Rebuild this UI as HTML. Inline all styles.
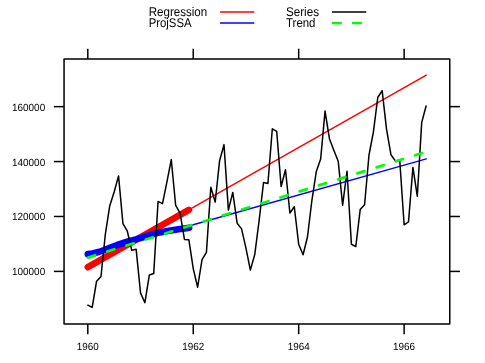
<!DOCTYPE html>
<html><head><meta charset="utf-8"><title>ProjSSA trend plot</title>
<style>
html,body{margin:0;padding:0;background:#fff;}
body{width:485px;height:363px;overflow:hidden;}
svg{display:block;}
text{font-family:"Liberation Sans",sans-serif;fill:#000;text-rendering:geometricPrecision;}
svg{will-change:transform;opacity:0.999;}
</style></head><body>
<svg width="485" height="363" viewBox="0 0 485 363">
<rect x="0" y="0" width="485" height="363" fill="#fff"/>
<g font-size="12.6">
<text x="148.7" y="15.6" textLength="58.5" lengthAdjust="spacingAndGlyphs">Regression</text>
<text x="148.7" y="27.2" textLength="42.9" lengthAdjust="spacingAndGlyphs">ProjSSA</text>
<text x="285.9" y="15.6" textLength="33.2" lengthAdjust="spacingAndGlyphs">Series</text>
<text x="286.0" y="27.2" textLength="29.5" lengthAdjust="spacingAndGlyphs">Trend</text>
</g>
<g fill="none" stroke-width="1.5" stroke-linecap="butt">
<line x1="220" y1="11.9" x2="254.3" y2="11.9" stroke="#f00"/>
<line x1="220" y1="23.0" x2="254.3" y2="23.0" stroke="#00f"/>
<line x1="332" y1="11.9" x2="366.3" y2="11.9" stroke="#000"/>
<line x1="333" y1="23.0" x2="366.3" y2="23.0" stroke="#0f0" stroke-width="2.7" stroke-dasharray="7.6,12.55" stroke-linecap="round"/>
</g>
<g fill="none" stroke-linecap="round" stroke-linejoin="round">
<polyline points="87.80,267.20 426.30,75.20" stroke="#f00" stroke-width="1.5"/>
<polyline points="87.80,267.20 188.85,209.89" stroke="#f00" stroke-width="6.6"/>
<polyline points="189.10,227.70 193.20,224.70 426.30,158.90" stroke="#00f" stroke-width="1.5"/>
<polyline points="87.80,254.10 92.40,253.50 98.60,252.00 104.80,249.80 111.00,247.30 117.20,245.00 123.40,243.00 129.60,241.00 135.00,239.60 141.20,237.90 147.40,235.90 153.60,234.00 159.80,232.40 166.00,231.20 172.20,230.20 178.40,229.30 184.60,228.40 189.10,227.70" stroke="#00f" stroke-width="6.6"/>
<polyline points="87.80,305.19 92.19,307.40 96.59,281.17 100.98,276.53 105.37,234.01 109.77,205.70 114.16,191.97 118.55,175.91 122.95,223.74 127.34,231.24 131.73,250.32 136.13,249.19 140.52,292.85 144.91,302.73 149.31,275.02 153.70,273.58 158.09,201.42 162.49,203.64 166.88,182.04 171.27,159.54 175.67,205.47 180.06,213.20 184.45,239.45 188.85,239.64 193.24,268.63 197.63,287.25 202.03,259.72 206.42,252.39 210.81,187.31 215.21,202.06 219.60,160.69 223.99,144.61 228.39,210.11 232.78,192.40 237.17,223.30 241.57,228.86 245.96,248.07 250.35,270.08 254.75,254.54 259.14,220.38 263.53,182.51 267.93,183.41 272.32,128.78 276.71,131.36 281.11,186.46 285.50,169.75 289.89,212.99 294.29,206.74 298.68,244.23 303.07,254.76 307.47,236.97 311.86,200.70 316.25,171.85 320.65,159.11 325.04,111.06 329.43,138.73 333.83,150.17 338.22,161.18 342.61,205.29 347.01,171.21 351.40,244.23 355.79,246.57 360.19,209.62 364.58,204.77 368.97,155.26 373.37,132.20 377.76,97.49 382.15,90.61 386.55,129.35 390.94,154.72 395.33,160.93 399.73,160.29 404.12,224.82 408.51,221.84 412.91,167.41 417.30,196.18 421.69,122.66 426.09,106.02" stroke="#000" stroke-width="1.5"/>
<polyline points="88.00,257.60 426.30,151.80" stroke="#0f0" stroke-width="2.7" stroke-dasharray="7.56,12.6" stroke-linecap="round"/>
</g>
<g stroke="#000" stroke-width="1.5" fill="none" stroke-linecap="butt">
<line x1="87.80" y1="58.9" x2="87.80" y2="48.70"/><line x1="87.80" y1="324.0" x2="87.80" y2="334.20"/><line x1="193.24" y1="58.9" x2="193.24" y2="48.70"/><line x1="193.24" y1="324.0" x2="193.24" y2="334.20"/><line x1="298.68" y1="58.9" x2="298.68" y2="48.70"/><line x1="298.68" y1="324.0" x2="298.68" y2="334.20"/><line x1="404.12" y1="58.9" x2="404.12" y2="48.70"/><line x1="404.12" y1="324.0" x2="404.12" y2="334.20"/><line x1="64.05" y1="271.40" x2="53.85" y2="271.40"/><line x1="449.75" y1="271.40" x2="459.95" y2="271.40"/><line x1="64.05" y1="216.48" x2="53.85" y2="216.48"/><line x1="449.75" y1="216.48" x2="459.95" y2="216.48"/><line x1="64.05" y1="161.56" x2="53.85" y2="161.56"/><line x1="449.75" y1="161.56" x2="459.95" y2="161.56"/><line x1="64.05" y1="106.64" x2="53.85" y2="106.64"/><line x1="449.75" y1="106.64" x2="459.95" y2="106.64"/>
<rect x="64.05" y="58.9" width="385.70" height="265.10" stroke-linejoin="round"/>
</g>
<g font-size="10.4">
<text x="87.80" y="350.4" text-anchor="middle" textLength="22" lengthAdjust="spacingAndGlyphs">1960</text><text x="193.24" y="350.4" text-anchor="middle" textLength="22" lengthAdjust="spacingAndGlyphs">1962</text><text x="298.68" y="350.4" text-anchor="middle" textLength="22" lengthAdjust="spacingAndGlyphs">1964</text><text x="404.12" y="350.4" text-anchor="middle" textLength="22" lengthAdjust="spacingAndGlyphs">1966</text><text x="45.2" y="275.35" text-anchor="end" textLength="33.2" lengthAdjust="spacingAndGlyphs">100000</text><text x="45.2" y="220.43" text-anchor="end" textLength="33.2" lengthAdjust="spacingAndGlyphs">120000</text><text x="45.2" y="165.51" text-anchor="end" textLength="33.2" lengthAdjust="spacingAndGlyphs">140000</text><text x="45.2" y="110.59" text-anchor="end" textLength="33.2" lengthAdjust="spacingAndGlyphs">160000</text>
</g>
</svg>
</body></html>
